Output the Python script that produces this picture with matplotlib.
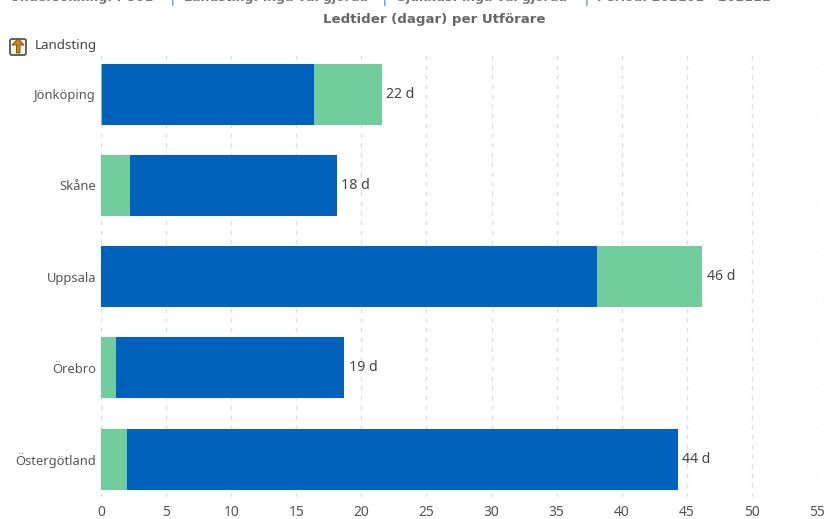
#!/usr/bin/env python3
"""Ledtider per Utforare, stacked horizontal bars."""

import matplotlib

matplotlib.use("Agg")
import matplotlib.pyplot as plt
from matplotlib.patches import FancyBboxPatch, Polygon

plt.rcParams["font.family"] = ["Noto Sans", "DejaVu Sans"]

REGIONS = ["Jönköping", "Skåne", "Uppsala", "Örebro", "Östergötland"]
FIRST_GREEN = [0.1, 2.2, 0.0, 1.15, 2.0]
BLUE = [16.25, 15.9, 38.1, 17.55, 42.3]
LAST_GREEN = [5.25, 0.0, 8.1, 0.0, 0.0]
TOTAL_LABELS = ["22 d", "18 d", "46 d", "19 d", "44 d"]
X_TICKS = list(range(0, 60, 5))
HEADER_PARTS = [
    "Undersökning: PU01",
    "Landsting: Inga val gjorda",
    "Sjukhus: Inga val gjorda",
    "Period: 202101 - 202111",
]
HEADER_X = [10, 184, 397, 597]
SEPARATOR_X = [173, 385, 586]

GREEN_COLOR = "#71cd9d"
BLUE_COLOR = "#0062bb"
GRID_COLOR = "#dedede"
TEXT_COLOR = "#555555"

W, H = 826, 519


def main():
    fig = plt.figure(figsize=(W / 100, H / 100), dpi=100, facecolor="white")
    ax = fig.add_axes([101 / W, 1 - 497 / H, (817 - 101) / W, (497 - 54) / H])

    ypos = list(range(len(REGIONS)))
    lefts = [0.0] * len(REGIONS)
    for values, color in ((FIRST_GREEN, GREEN_COLOR), (BLUE, BLUE_COLOR), (LAST_GREEN, GREEN_COLOR)):
        ax.barh(ypos, values, left=lefts, height=0.668, color=color, linewidth=0, zorder=3)
        lefts = [a + b for a, b in zip(lefts, values)]

    for y, total, label in zip(ypos, lefts, TOTAL_LABELS):
        ax.text(total + 0.33, y, label, va="center", ha="left", fontsize=10.2, color="#444444")

    ax.set_xlim(0, 55)
    ax.set_ylim(4.416, -0.44)
    ax.set_xticks(X_TICKS)
    ax.set_yticks(ypos)
    ax.set_yticklabels(REGIONS)
    ax.tick_params(axis="x", length=0, pad=6, labelsize=10, labelcolor=TEXT_COLOR)
    ax.tick_params(axis="y", length=0, pad=3.5, labelsize=9.3, labelcolor=TEXT_COLOR)
    ax.xaxis.grid(True, color=GRID_COLOR, linestyle=(0, (3, 4)), linewidth=1.0, zorder=0)
    ax.set_axisbelow(True)
    for spine in ax.spines.values():
        spine.set_visible(False)

    # header line is cut off by the top edge in the reference
    for x, part in zip(HEADER_X, HEADER_PARTS):
        fig.text(
            x / W,
            1 - (-2.5) / H,
            part,
            ha="left",
            va="center",
            family="DejaVu Sans",
            fontsize=9,
            fontweight="bold",
            color="#777777",
        )
    for x in SEPARATOR_X:
        fig.text(x / W, 1 - (-2) / H, "|", ha="center", va="center", fontsize=10, color="#4a6fa5")
    fig.text(
        434 / W,
        1 - 20 / H,
        "Ledtider (dagar) per Utförare",
        ha="center",
        va="center",
        family="DejaVu Sans",
        fontsize=9.6,
        fontweight="bold",
        color="#666666",
    )
    fig.text(35 / W, 1 - 45.5 / H, "Landsting", ha="left", va="center", fontsize=9.6, color="#444444")

    # small up-arrow icon
    icon = fig.add_axes([7 / W, 1 - 58 / H, 22 / W, 22 / H])
    icon.set_xlim(0, 22)
    icon.set_ylim(22, 0)
    icon.axis("off")
    icon.add_patch(FancyBboxPatch(
        (3, 3),
        16,
        16,
        boxstyle="round,pad=0,rounding_size=2",
        facecolor="#f7f5ee",
        edgecolor="#555555",
        linewidth=1.3,
    ))
    icon.add_patch(Polygon(
        [(11, 2.5), (17, 9), (13, 9), (13, 17), (9.5, 17), (9.5, 9), (5, 9)],
        closed=True,
        facecolor="#c98a1a",
        edgecolor="#6a4510",
        linewidth=0.6,
    ))

    fig.savefig("out.png", dpi=100, facecolor="white")
    plt.close(fig)


if __name__ == "__main__":
    main()
